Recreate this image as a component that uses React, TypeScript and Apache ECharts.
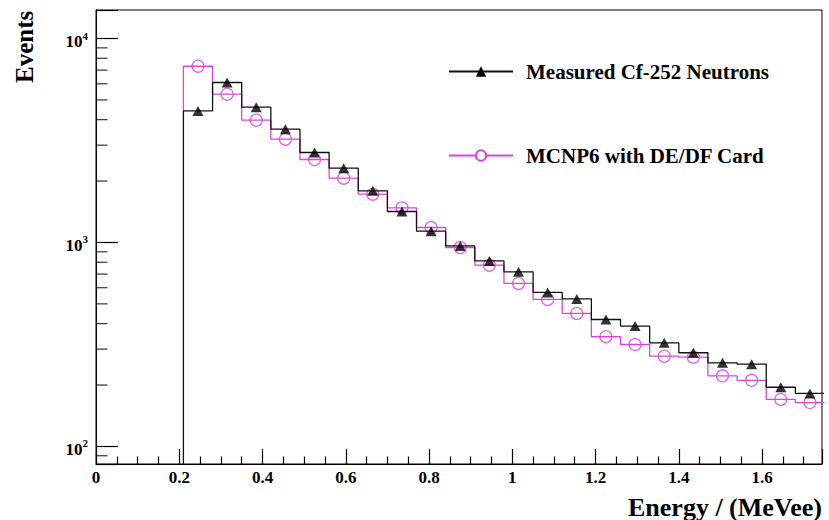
import React, { useEffect, useRef } from "react";
import * as echarts from "echarts";

// Bin edges (MeVee)
const BIN_EDGES = [0.21, 0.28, 0.35, 0.42, 0.49, 0.56, 0.63, 0.70, 0.77, 0.84, 0.91, 0.98, 1.05, 1.12, 1.19, 1.26, 1.33, 1.40, 1.47, 1.54, 1.61, 1.68, 1.75];
// Measured Cf-252 neutrons (events per bin)
const MEASURED = [4416, 6086, 4605, 3593, 2762, 2313, 1791, 1419, 1136, 962, 812, 718, 569, 529, 419, 389, 322, 288, 257, 253, 195, 182];
// MCNP6 with DE/DF card
const MCNP6 = [7314, 5333, 3977, 3209, 2552, 2067, 1725, 1478, 1184, 945, 774, 630, 526, 449, 345, 316, 277, 274, 222, 211, 170, 164];
// Log-axis minor tick positions
const Y_MINOR_TICKS = [90, 200, 300, 400, 500, 600, 700, 800, 900, 2000, 3000, 4000, 5000, 6000, 7000, 8000, 9000];

const NAME_MEAS = "Measured Cf-252 Neutrons";
const NAME_MC = "MCNP6 with DE/DF Card";
const FONT = '"Liberation Serif", "Times New Roman", serif';
const MAGENTA = "#dd44dd";
const FLOOR = 1;

function stepPoints(vals: number[], start: number) {
  const pts: number[][] = [[BIN_EDGES[0], start]];
  vals.forEach((v, i) => {
    pts.push([BIN_EDGES[i], v]);
    pts.push([BIN_EDGES[i + 1], v]);
  });
  return pts;
}
function centers(vals: number[]) {
  return vals.map((v, i) => [(BIN_EDGES[i] + BIN_EDGES[i + 1]) / 2, v]);
}

export default function App() {
  const ref = useRef<HTMLDivElement>(null);
  useEffect(() => {
    if (!ref.current) return;
    const chart = echarts.init(ref.current, null, { renderer: "svg" });
    chart.setOption({
      animation: false,
      backgroundColor: "#fff",
      grid: {
        left: 96, right: 7, top: 10, bottom: 56,
        show: true, borderColor: "#000", borderWidth: 1, backgroundColor: "transparent",
        outerBoundsMode: "none",
      },
      legend: {
        orient: "vertical",
        left: 448,
        top: 61,
        itemWidth: 64,
        itemHeight: 13,
        itemGap: 63,
        padding: 0,
        data: [NAME_MEAS, NAME_MC],
        textStyle: { fontFamily: FONT, fontSize: 21, fontWeight: "bold", color: "#000", padding: [0, 0, 0, 8] },
      },
      xAxis: {
        type: "value",
        min: 0,
        max: 1.744,
        interval: 0.2,
        name: "Energy / (MeVee)",
        nameLocation: "end",
        nameGap: 0,
        nameMoveOverlap: false,
        nameTextStyle: { fontFamily: FONT, fontSize: 26, fontWeight: "bold", color: "#000", align: "right", verticalAlign: "top", padding: [30, 0, 0, 0] },
        axisLine: { show: true, lineStyle: { color: "#000", width: 1 } },
        axisTick: { show: true, inside: true, length: 15, lineStyle: { color: "#000", width: 1.2 } },
        minorTick: { show: true, splitNumber: 4, length: 7.5, lineStyle: { color: "#000", width: 1.2 } },
        axisLabel: { showMaxLabel: false, margin: 5, fontFamily: FONT, fontSize: 17, fontWeight: "bold", color: "#000" },
        splitLine: { show: false },
      },
      yAxis: {
        type: "log",
        logBase: 10,
        min: 82,
        max: 13800,
        name: "Events",
        nameLocation: "end",
        nameGap: -73,
        nameRotate: 90,
        nameMoveOverlap: false,
        nameTextStyle: { fontFamily: FONT, fontSize: 25, fontWeight: "bold", color: "#000", align: "left", verticalAlign: "bottom", padding: [0, 0, 59, 0] },
        axisLine: { show: true, lineStyle: { color: "#000", width: 1 } },
        axisTick: { show: true, inside: true, length: 22, lineStyle: { color: "#000", width: 1.2 } },
        axisLabel: {
          margin: 8,
          formatter: (v: number) => {
            const e = Math.round(Math.log10(v));
            if (Math.abs(v / Math.pow(10, e) - 1) > 1e-6) return "";
            return `{b|10}{s|${e}}`;
          },
          rich: {
            b: { fontFamily: FONT, fontSize: 17, fontWeight: "bold", color: "#000", padding: [6, 0, 0, 0] },
            s: { fontFamily: FONT, fontSize: 11, fontWeight: "bold", color: "#000", padding: [0, 0, 6, 0] },
          },
        },
        splitLine: { show: false },
      },
      series: [
        {
          name: NAME_MC,
          type: "line",
          data: stepPoints(MCNP6, MEASURED[0]),
          symbol: "emptyCircle",
          showSymbol: false,
          color: MAGENTA,
          itemStyle: { color: MAGENTA },
          lineStyle: { color: MAGENTA, width: 1.3 },
          silent: true,
          z: 2,
        },
        {
          type: "scatter",
          data: centers(MCNP6),
          symbol: "circle",
          symbolSize: 12,
          itemStyle: { color: "transparent", borderColor: MAGENTA, borderWidth: 1.3 },
          silent: true,
          z: 3,
        },
        {
          name: NAME_MEAS,
          type: "line",
          data: stepPoints(MEASURED, FLOOR),
          symbol: "triangle",
          showSymbol: false,
          color: "#000",
          itemStyle: { color: "#000" },
          lineStyle: { color: "#111", width: 1.3 },
          silent: true,
          z: 4,
        },
        {
          type: "scatter",
          data: centers(MEASURED),
          symbol: "triangle",
          symbolSize: [11, 10],
          itemStyle: { color: "#000" },
          silent: true,
          z: 5,
        },
        {
          type: "scatter",
          data: Y_MINOR_TICKS.map((v) => [0, v]),
          symbol: "rect",
          symbolSize: [11.5, 1.2],
          symbolOffset: [5.75, 0],
          clip: false,
          itemStyle: { color: "#000" },
          silent: true,
          z: 6,
        },
      ],
    });
    return () => chart.dispose();
  }, []);
  return <div ref={ref} style={{ position: "fixed", left: 0, top: 0, width: 829, height: 520 }} />;
}
